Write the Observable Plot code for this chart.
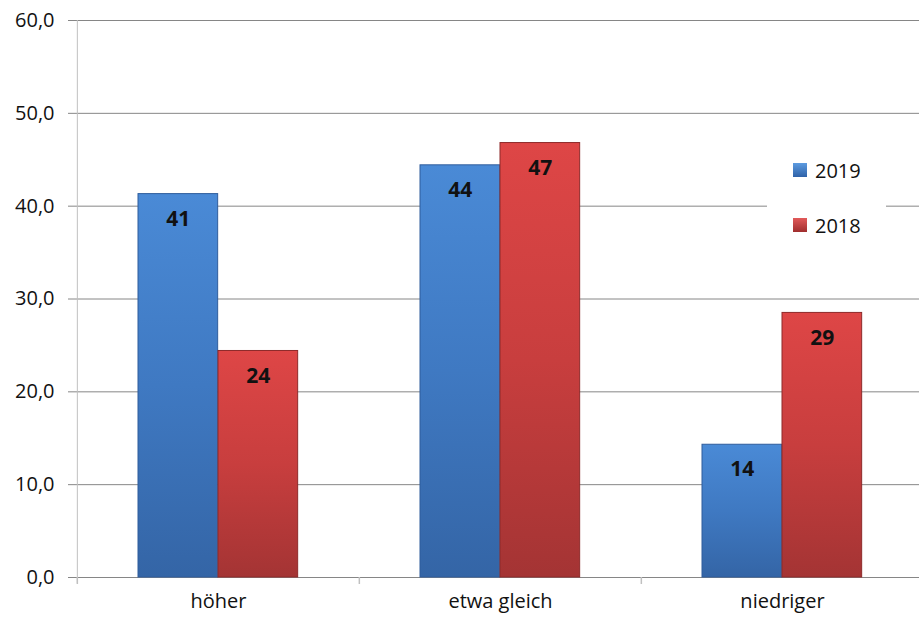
<!DOCTYPE html>
<html><head><meta charset="utf-8">
<script src="https://cdn.jsdelivr.net/npm/d3@7"></script>
<script src="https://cdn.jsdelivr.net/npm/@observablehq/plot@0.6"></script>
<style>
body{margin:0;background:#fff;font-family:"Open Sans",sans-serif}
#wrap{position:relative;width:919px;height:619px;overflow:hidden}
.legend{position:absolute;left:767px;top:140px;width:119px;height:115px;background:#fff}
.item{position:absolute;left:26px;height:28px;display:flex;align-items:center;font-size:20px;color:#111}
.sw{width:14px;height:14px;margin-right:8px;box-sizing:border-box}
</style></head><body><div id="wrap"></div>
<script>
const categories = ["höher", "etwa gleich", "niedriger"];
const series = ["2019", "2018"];
const values2019 = [41.3, 44.4, 14.3];
const values2018 = [24.4, 46.8, 28.5];
const labels2019 = ["41", "44", "14"];
const labels2018 = ["24", "47", "29"];
const yTicks = [0, 10, 20, 30, 40, 50, 60];

const W = 919, H = 619;
const xRange = [76, 923];
const bw = (xRange[1] - xRange[0]) / categories.length;
const barW = 80, outer = 61;

const d2019 = categories.map((c, i) => ({c, v: values2019[i], t: labels2019[i]}));
const d2018 = categories.map((c, i) => ({c, v: values2018[i], t: labels2018[i]}));

const fmt = d => d.toFixed(1).replace(".", ",");

const chart = Plot.plot({
  width: W, height: H,
  marginLeft: 76, marginRight: 0, marginTop: 20, marginBottom: 42,
  style: {fontFamily: "'Open Sans', sans-serif", fontSize: "20px", color: "#111", background: "#fff"},
  x: {domain: categories, range: xRange, padding: 0, axis: null, label: null},
  y: {domain: [0, 60], axis: null, label: null},
  marks: [
    Plot.gridY(yTicks, {stroke: "#868686", strokeOpacity: 1, insetLeft: -8}),
    Plot.ruleX([categories[0]], {x: d => d, dx: -bw / 2, stroke: "#c0c0c0", insetBottom: -6}),
    Plot.axisX(categories, {tickSize: 7, tickFormat: () => "", label: null, dx: -bw / 2, stroke: "#c0c0c0", strokeWidth: 1.5}),
    Plot.axisX(categories, {tickSize: 0, tickPadding: 16, label: null, fontSize: 20, fill: "#111"}),
    Plot.axisY(yTicks, {tickSize: 0, tickPadding: 22, label: null, tickFormat: fmt, fontSize: 20, fill: "#111"}),
    Plot.barY(d2019, {x: "c", y: "v", fill: "url(#g2019)", stroke: "#2f5d9c", strokeWidth: 1,
      insetLeft: outer, insetRight: bw - outer - barW}),
    Plot.barY(d2018, {x: "c", y: "v", fill: "url(#g2018)", stroke: "#8e2a2a", strokeWidth: 1,
      insetLeft: outer + barW, insetRight: bw - outer - 2 * barW}),
    Plot.text(d2019, {x: "c", y: "v", text: "t", dx: outer + barW / 2 - bw / 2, dy: 25,
      fontWeight: "bold", fontSize: 21, fill: "#111"}),
    Plot.text(d2018, {x: "c", y: "v", text: "t", dx: outer + 1.5 * barW - bw / 2, dy: 25,
      fontWeight: "bold", fontSize: 21, fill: "#111"})
  ]
});

chart.insertAdjacentHTML("afterbegin", `<defs>
<linearGradient id="g2019" x1="0" y1="0" x2="0" y2="1">
<stop offset="0" stop-color="#4a8ad6"/><stop offset="0.5" stop-color="#3f79c2"/><stop offset="1" stop-color="#3465a6"/>
</linearGradient>
<linearGradient id="g2018" x1="0" y1="0" x2="0" y2="1">
<stop offset="0" stop-color="#de4646"/><stop offset="0.5" stop-color="#c83e3e"/><stop offset="1" stop-color="#a43434"/>
</linearGradient></defs>`);

const wrap = document.getElementById("wrap");
wrap.appendChild(chart);

const legend = document.createElement("div");
legend.className = "legend";
const swatches = {"2019": "linear-gradient(#5d9be0,#2f62a8)", "2018": "linear-gradient(#e25a5a,#a02e2e)"};
series.forEach((s, i) => {
  const it = document.createElement("div");
  it.className = "item";
  it.style.top = (16 + i * 55) + "px";
  it.innerHTML = `<span class="sw" style="background:${swatches[s]}"></span><span>${s}</span>`;
  legend.appendChild(it);
});
wrap.appendChild(legend);
</script></body></html>
